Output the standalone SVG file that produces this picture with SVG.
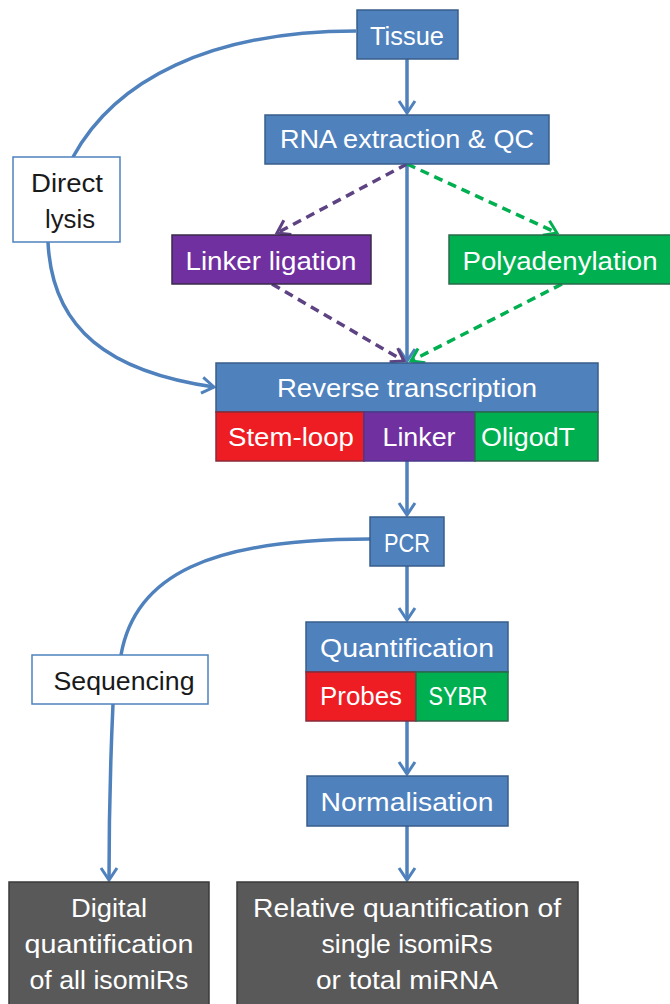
<svg xmlns="http://www.w3.org/2000/svg" width="670" height="1004" viewBox="0 0 670 1004">
<style>
text{font-family:"Liberation Sans",Arial,sans-serif;font-size:25px;fill:#fff;text-anchor:middle}
.dk{fill:#1a1a1a}
.blue{fill:#4F81BD;stroke:#385D8A;stroke-width:1.5}
.purple{fill:#7030A0;stroke:#3a2a4a;stroke-width:1.5}
.green{fill:#00B050;stroke:#2a6a4a;stroke-width:1.5}
.red{fill:#EE1D23;stroke:#8a2a3a;stroke-width:1.5}
.white{fill:#fff;stroke:#4F81BD;stroke-width:1.5}
.gray{fill:#595959;stroke:#3a3a3a;stroke-width:1.5}
.c{fill:none;stroke:#4F81BD;stroke-width:3.5}
.dp{fill:none;stroke:#5E4383;stroke-width:3.5;stroke-dasharray:9,6}
.dg{fill:none;stroke:#00B050;stroke-width:3.5;stroke-dasharray:9,6}
</style>
<defs>
<marker id="ab" markerUnits="userSpaceOnUse" markerWidth="30" markerHeight="30" refX="0" refY="0" viewBox="-15 -15 30 30" orient="auto"><path d="M-12,-8 L0,0 L-12,8" fill="none" stroke="#4F81BD" stroke-width="3"/></marker>
<marker id="ap" markerUnits="userSpaceOnUse" markerWidth="30" markerHeight="30" refX="0" refY="0" viewBox="-15 -15 30 30" orient="auto"><path d="M-12,-8 L0,0 L-12,8" fill="none" stroke="#5E4383" stroke-width="3"/></marker>
<marker id="ag" markerUnits="userSpaceOnUse" markerWidth="30" markerHeight="30" refX="0" refY="0" viewBox="-15 -15 30 30" orient="auto"><path d="M-12,-8 L0,0 L-12,8" fill="none" stroke="#00B050" stroke-width="3"/></marker>
</defs>
<g id="connectors">
<path class="c" d="M407,59 L407,113" marker-end="url(#ab)"/>
<path class="c" d="M407,164 L407,361" marker-end="url(#ab)"/>
<path class="dp" d="M407,164 L277,233" marker-end="url(#ap)"/>
<path class="dg" d="M407,164 L557,233" marker-end="url(#ag)"/>
<path class="dp" d="M272,284 L404,361" marker-end="url(#ap)"/>
<path class="dg" d="M562,284 L411,361" marker-end="url(#ag)"/>
<path class="c" d="M356,31 C210,31 115,80 73,157"/>
<path class="c" d="M48,242 C52,330 110,372 214,387" marker-end="url(#ab)"/>
<path class="c" d="M407,461 L407,515" marker-end="url(#ab)"/>
<path class="c" d="M407,566 L407,620" marker-end="url(#ab)"/>
<path class="c" d="M370,539 C210,539 135,575 121,655"/>
<path class="c" d="M113,704 C110,770 109,830 109,880" marker-end="url(#ab)"/>
<path class="c" d="M407,721 L407,774" marker-end="url(#ab)"/>
<path class="c" d="M407,826 L407,880" marker-end="url(#ab)"/>
</g>
<g id="tissue"><rect class="blue" x="357" y="10" width="101" height="49"/><text x="407" y="45" textLength="74" lengthAdjust="spacingAndGlyphs">Tissue</text></g>
<g id="rna"><rect class="blue" x="265" y="115" width="284" height="49"/><text x="407" y="148" textLength="254" lengthAdjust="spacingAndGlyphs">RNA extraction &amp; QC</text></g>
<g id="direct-lysis"><rect class="white" x="13" y="157" width="107" height="85"/><text class="dk" x="67" y="192" textLength="72" lengthAdjust="spacingAndGlyphs">Direct</text><text class="dk" x="70" y="228" textLength="50" lengthAdjust="spacingAndGlyphs">lysis</text></g>
<g id="linker-ligation"><rect class="purple" x="172" y="235" width="199" height="49"/><text x="271" y="270" textLength="171" lengthAdjust="spacingAndGlyphs">Linker ligation</text></g>
<g id="polyadenylation"><rect class="green" x="449" y="235" width="224" height="49"/><text x="560" y="270" textLength="195" lengthAdjust="spacingAndGlyphs">Polyadenylation</text></g>
<g id="reverse-transcription">
<rect class="blue" x="216" y="363" width="382" height="49"/><text x="407" y="397" textLength="260" lengthAdjust="spacingAndGlyphs">Reverse transcription</text>
<rect class="red" x="216" y="412" width="148" height="49"/><text x="291" y="446" textLength="126" lengthAdjust="spacingAndGlyphs">Stem-loop</text>
<rect class="purple" x="364" y="412" width="111" height="49" style="stroke:#4a3a8a"/><text x="419" y="446" textLength="73" lengthAdjust="spacingAndGlyphs">Linker</text>
<rect class="green" x="475" y="412" width="123" height="49"/><text x="528" y="446" textLength="94" lengthAdjust="spacingAndGlyphs">OligodT</text>
</g>
<g id="pcr"><rect class="blue" x="370" y="517" width="74" height="49"/><text x="407" y="552" textLength="46" lengthAdjust="spacingAndGlyphs">PCR</text></g>
<g id="sequencing"><rect class="white" x="32" y="655" width="176" height="49"/><text class="dk" x="124" y="690" textLength="141" lengthAdjust="spacingAndGlyphs">Sequencing</text></g>
<g id="quantification">
<rect class="blue" x="306" y="622" width="202" height="50"/><text x="407" y="657" textLength="174" lengthAdjust="spacingAndGlyphs">Quantification</text>
<rect class="red" x="306" y="672" width="110" height="49"/><text x="361" y="705" textLength="82" lengthAdjust="spacingAndGlyphs">Probes</text>
<rect class="green" x="416" y="672" width="92" height="49"/><text x="458" y="705" textLength="59" lengthAdjust="spacingAndGlyphs">SYBR</text>
</g>
<g id="normalisation"><rect class="blue" x="307" y="776" width="201" height="50"/><text x="407" y="811" textLength="173" lengthAdjust="spacingAndGlyphs">Normalisation</text></g>
<g id="digital"><rect class="gray" x="9" y="882" width="200" height="130"/><text x="109" y="917" textLength="76" lengthAdjust="spacingAndGlyphs">Digital</text><text x="109" y="953" textLength="169" lengthAdjust="spacingAndGlyphs">quantification</text><text x="109" y="989" textLength="159" lengthAdjust="spacingAndGlyphs">of all isomiRs</text></g>
<g id="relative"><rect class="gray" x="237" y="882" width="341" height="130"/><text x="407" y="917" textLength="308" lengthAdjust="spacingAndGlyphs">Relative quantification of</text><text x="407" y="953" textLength="171" lengthAdjust="spacingAndGlyphs">single isomiRs</text><text x="407" y="989" textLength="182" lengthAdjust="spacingAndGlyphs">or total miRNA</text></g>
</svg>
